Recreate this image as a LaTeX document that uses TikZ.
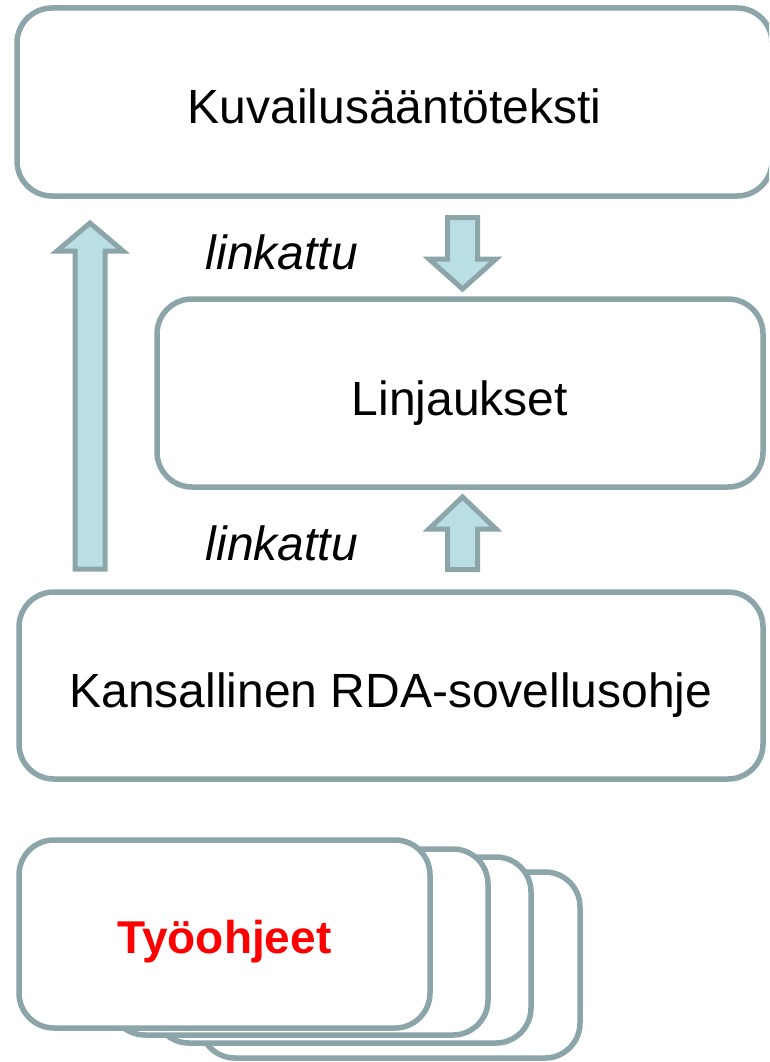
\documentclass[tikz,border=0pt]{standalone}
\usepackage{fontspec}
\setmainfont{Liberation Sans}
\definecolor{strokec}{RGB}{140,165,168}
\definecolor{arrowfill}{RGB}{185,223,228}
\definecolor{redtext}{RGB}{255,0,0}
\begin{document}
\begin{tikzpicture}[x=1pt,y=-1pt,
  box/.style={draw=strokec, fill=white, line width=5.5pt, rounded corners=35pt,
    inner sep=0pt, outer sep=0pt, anchor=north west, text depth=0pt, text height=44pt,
    font=\fontsize{48}{56}\selectfont},
  blockarrow/.style={draw=strokec, fill=arrowfill, line width=5pt, line join=miter},
  lbl/.style={font=\fontsize{48}{56}\selectfont\itshape, inner sep=0pt}]
\clip (0,0) rectangle (769,1062);
\fill[white] (0,0) rectangle (769,1062);
% main boxes
\node[box, minimum width=755pt, minimum height=188pt] (rules) at (17,8) {Kuvailusääntöteksti};
\node[box, minimum width=606pt, minimum height=188pt] (policy) at (157,299) {Linjaukset};
\node[box, minimum width=744pt, minimum height=187pt] (national) at (19,592) {Kansallinen RDA-sovellusohje};
% stacked work instructions
\node[box, minimum width=380pt, minimum height=186pt] (w4) at (200,872) {};
\node[box, minimum width=377pt, minimum height=186pt] (w3) at (154,857) {};
\node[box, minimum width=378pt, minimum height=186pt] (w2) at (110,849) {};
\node[box, minimum width=411pt, minimum height=188pt, text height=39pt, font=\fontsize{46}{54}\selectfont\bfseries, text=redtext] (w1) at (19,840) {Työohjeet};
% big left arrow: national -> rules
\draw[blockarrow] (75,569) -- (75,251) -- (57,251) -- (90,223) -- (123,251) -- (105,251) -- (105,569) -- cycle;
% down arrow: rules -> policy
\draw[blockarrow] (447.5,217.5) -- (477.5,217.5) -- (477.5,259) -- (496,259) -- (462.5,289) -- (429,259) -- (447.5,259) -- cycle;
% up arrow: national -> policy
\draw[blockarrow] (447.5,569.5) -- (477.5,569.5) -- (477.5,529) -- (496,529) -- (462.5,497) -- (429,529) -- (447.5,529) -- cycle;
% labels
\node[lbl] (l1) at (282,252) {linkattu};
\node[lbl] (l2) at (282,543) {linkattu};
\end{tikzpicture}
\end{document}
